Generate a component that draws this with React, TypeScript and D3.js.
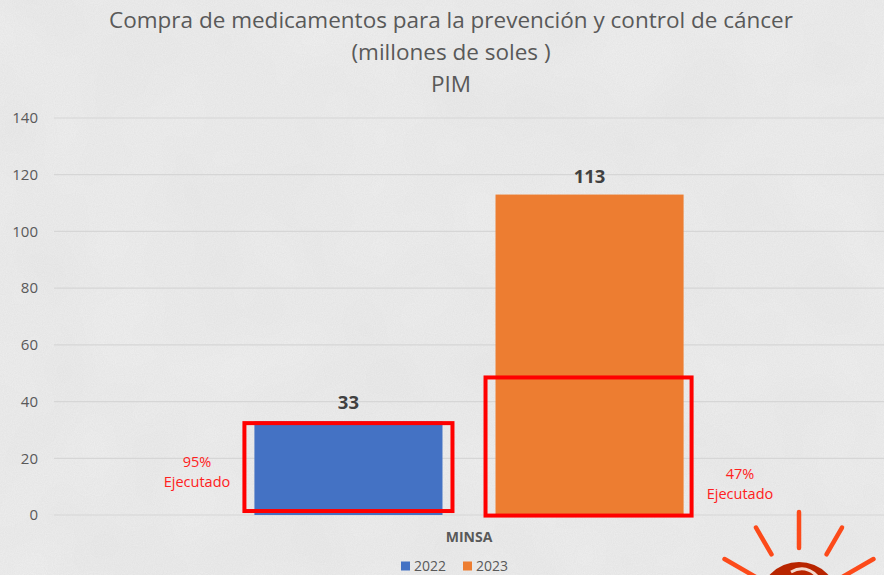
import React from "react";
import * as d3 from "d3";

const categories = ["MINSA"];
const years = ["2022", "2023"];
const values2022 = [33];
const values2023 = [113];
const executedLabels = ["95%", "47%"];
// red annotation boxes: [top, bottom] in axis units
const boxRanges = [
  [32.4, 1.4],
  [48.5, -0.2],
];
const yTicks = [0, 20, 40, 60, 80, 100, 120, 140];
const titleLines = [
  "Compra de medicamentos para la prevención y control de cáncer",
  "(millones de soles )",
  "PIM",
];

const width = 884;
const height = 575;
const colors = ["#4472c4", "#ed7d31"];
const textGray = "#595959";
const font = "'Open Sans', 'Noto Sans', sans-serif";

const App = () => {
  const x0 = d3
    .scaleBand()
    .domain(categories)
    .range([54, 884])
    .paddingInner(0)
    .paddingOuter(0.467);

  const x1 = d3
    .scaleBand()
    .domain(years)
    .range([0, x0.bandwidth()])
    .paddingInner(0.22)
    .paddingOuter(0);

  const y = d3.scaleLinear().domain([0, 140]).range([515, 118]);

  const series = [values2022, values2023];

  // sun logo rays (angles from vertical)
  const rayAngles = [-60, -30, 0, 30, 60];
  const sunCx = 799;
  const sunCy = 602;

  return (
    <svg
      width={width}
      height={height}
      style={{ position: "absolute", left: 0, top: 0 }}
    >
      <defs>
        <filter id="paper" x="0" y="0" width="100%" height="100%">
          <feTurbulence
            type="fractalNoise"
            baseFrequency="0.9"
            numOctaves={3}
            seed={4}
            result="n"
          />
          <feColorMatrix
            type="matrix"
            values="0 0 0 0 0.55  0 0 0 0 0.55  0 0 0 0 0.55  0 0 0 0.25 0"
          />
        </filter>
        <filter id="blot" x="0" y="0" width="100%" height="100%">
          <feTurbulence
            type="fractalNoise"
            baseFrequency="0.012"
            numOctaves={2}
            seed={7}
          />
          <feColorMatrix
            type="matrix"
            values="0 0 0 0 0.6  0 0 0 0 0.6  0 0 0 0 0.6  0 0 0 0.2 0"
          />
        </filter>
      </defs>
      <rect width={width} height={height} fill="#f1f1f1" />
      <rect width={width} height={height} filter="url(#blot)" />
      <rect width={width} height={height} filter="url(#paper)" />

      {titleLines.map((t, i) => (
        <text
          key={t}
          x={451}
          y={28 + i * 32}
          textAnchor="middle"
          fontFamily={font}
          fontSize={22.5}
          fill={textGray}
        >
          {t}
        </text>
      ))}

      {yTicks.map((t) => (
        <g key={t}>
          <line
            x1={54}
            x2={884}
            y1={y(t)}
            y2={y(t)}
            stroke="#d6d6d6"
            strokeWidth={1.2}
          />
          <text
            x={38}
            y={y(t)}
            dy="0.35em"
            textAnchor="end"
            fontFamily={font}
            fontSize={15}
            fill={textGray}
          >
            {t}
          </text>
        </g>
      ))}

      {categories.map((c, ci) => (
        <g key={c} transform={`translate(${x0(c)},0)`}>
          {years.map((yr, si) => {
            const v = series[si][ci];
            const bx = x1(yr) as number;
            return (
              <g key={yr}>
                <rect
                  x={bx}
                  y={y(v)}
                  width={x1.bandwidth()}
                  height={y(0) - y(v)}
                  fill={colors[si]}
                />
                <text
                  x={bx + x1.bandwidth() / 2}
                  y={y(v) - 12}
                  textAnchor="middle"
                  fontFamily={font}
                  fontWeight="bold"
                  fontSize={18.5}
                  fill="#404040"
                >
                  {v}
                </text>
              </g>
            );
          })}
          <text
            x={x0.bandwidth() / 2}
            y={542}
            textAnchor="middle"
            fontFamily={font}
            fontWeight="bold"
            fontSize={14}
            fill={textGray}
          >
            {c}
          </text>
        </g>
      ))}

      {/* red annotation boxes */}
      {years.map((yr, si) => {
        const bx = (x0(categories[0]) as number) + (x1(yr) as number);
        const [top, bottom] = boxRanges[si];
        return (
          <rect
            key={yr}
            x={bx - 10}
            y={y(top)}
            width={x1.bandwidth() + (si === 0 ? 20 : 18)}
            height={y(bottom) - y(top)}
            fill="none"
            stroke="#ff0000"
            strokeWidth={4}
          />
        );
      })}

      {/* executed percent labels */}
      {executedLabels.map((lab, i) => {
        const cx = i === 0 ? 197 : 740;
        const cy = i === 0 ? 462 : 474;
        return (
          <text
            key={lab}
            x={cx}
            y={cy}
            textAnchor="middle"
            fontFamily={font}
            fontSize={14.5}
            fill="#ff2020"
          >
            <tspan x={cx} dy="0.35em">
              {lab}
            </tspan>
            <tspan x={cx} dy="1.4em">
              Ejecutado
            </tspan>
          </text>
        );
      })}

      {/* legend */}
      {years.map((yr, i) => (
        <g key={yr} transform={`translate(${401 + i * 62},566)`}>
          <rect x={0} y={-4.5} width={9} height={9} fill={colors[i]} />
          <text
            x={13}
            y={0}
            dy="0.36em"
            fontFamily={font}
            fontSize={14}
            fill={textGray}
          >
            {yr}
          </text>
        </g>
      ))}

      {/* sun logo */}
      <g>
        {rayAngles.map((a) => {
          const r = (a * Math.PI) / 180;
          const long = a === 0 ? 90 : 86;
          const short = a === 0 ? 54 : Math.abs(a) === 60 ? 50 : 55;
          return (
            <line
              key={a}
              x1={sunCx + Math.sin(r) * short}
              y1={sunCy - Math.cos(r) * short}
              x2={sunCx + Math.sin(r) * long}
              y2={sunCy - Math.cos(r) * long}
              stroke="#fc4a1a"
              strokeWidth={4.5}
              strokeLinecap="round"
            />
          );
        })}
        <circle cx={sunCx} cy={sunCy} r={40} fill="#b82500" />
        <path
          d={`M${sunCx - 8},${sunCy - 30} q14,-8 26,4`}
          fill="none"
          stroke="#f3d8cc"
          strokeWidth={3}
        />
      </g>
    </svg>
  );
};

export default App;
